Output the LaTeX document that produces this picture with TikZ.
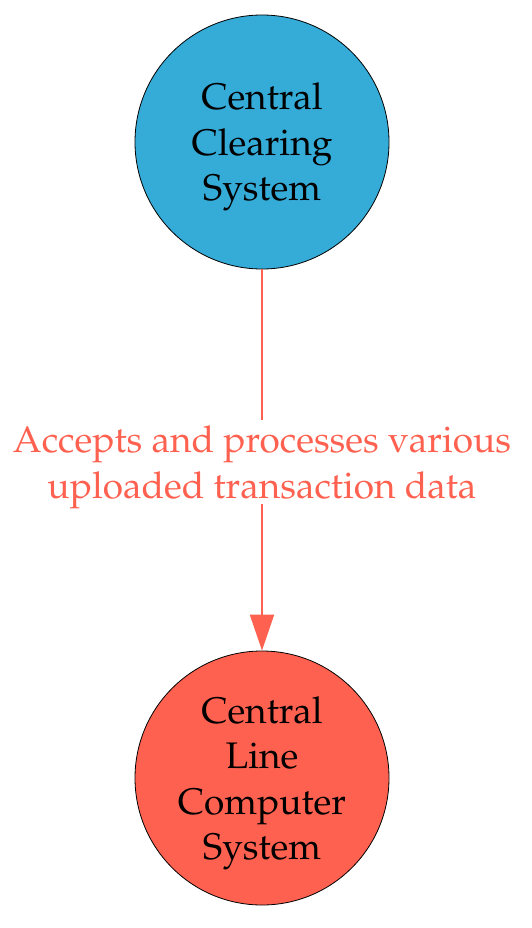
\documentclass[tikz,border=0pt]{standalone}
\usepackage[T1]{fontenc}
\usepackage{mathpazo}
\usetikzlibrary{arrows.meta}
\definecolor{blueC}{HTML}{35ABD7}
\definecolor{redC}{HTML}{FF6150}
\tikzset{
  entity/.style={circle, draw=black, line width=0.8pt, minimum size=254pt, inner sep=0pt, align=center, text depth=0pt, font=\fontsize{37}{45.5}\selectfont},
  flow/.style={redC, line width=2pt, -{Triangle[length=36pt,width=24pt]}},
  flowlabel/.style={fill=white, text=redC, align=center, inner xsep=1pt, inner ysep=6pt, text depth=0pt, font=\fontsize{37}{46}\selectfont}
}
\begin{document}
\begin{tikzpicture}[x=1pt,y=-1pt]
\useasboundingbox (0,0) rectangle (531,928);
\node[entity, fill=blueC] (a) at (262,142) {Central\\Clearing\\System};
\node[entity, fill=redC] (b) at (262,778) {Central\\Line\\Computer\\System};
\draw[flow] (a) -- node[flowlabel, pos=0.505] {Accepts and processes various\\uploaded transaction data} (b);
\end{tikzpicture}
\end{document}
